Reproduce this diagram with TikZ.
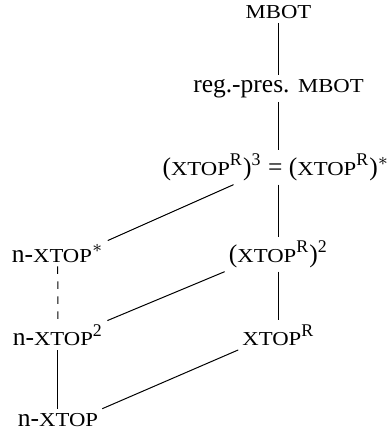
\documentclass[tikz,border=0pt]{standalone}
\usepackage{fontspec}
\setmainfont{Liberation Serif}
\newfontfamily\scwide[FakeStretch=1.15]{Liberation Serif}
\newcommand{\fsc}[1]{{\scwide\fontsize{7.9}{10}\selectfont #1}}
\newcommand{\xtop}{\fsc{XTOP}}
\newcommand{\mbot}{\fsc{MBOT}}
\newcommand{\supR}{\textsuperscript{R}}
\begin{document}
\begin{tikzpicture}[x=0.4pt, y=-0.4pt, every node/.style={anchor=base, inner sep=1.5pt}]
    \fontsize{10.2}{12}\selectfont
    \useasboundingbox (0,0) rectangle (392,435);

         % --- Right column (top to bottom) ---
         \node (mbot) at (278.5,18.3) {\mbot};
         \node (regmbot) at (278.5,92) {reg.-pres. \mbot};
         \node (top) at (276,175) {(\xtop\supR)\textsuperscript{3} = (\xtop\supR)$^{*}$};
         \node (xtoptwo) at (278.5,262) {(\xtop\supR)\textsuperscript{2}};
         \node (xtopr) at (278.5,345.5) {\xtop\supR};

         % --- Left column ---
         \node (nxtopstar) at (57.7,262) {n-\xtop$^{*}$};
         \node (nxtoptwo) at (58,345.7) {n-\xtop\textsuperscript{2}};
         \node (nxtop) at (58,426) {n-\xtop};

         % vertical edges
         \draw (mbot.south) -- (regmbot.north);
         \draw (regmbot.south) -- (regmbot.south |- top.north);
         \draw (top.south -| xtoptwo.north) -- (xtoptwo.north);
         \draw (xtoptwo.south) -- (xtopr.north);
         \draw[dashed] (nxtopstar.south) -- (nxtoptwo.north);
         \draw (nxtoptwo.south) -- (nxtop.north);

         % slanted edges
         \draw (nxtopstar.north east) -- ([xshift=-17pt]top.south);
         \draw (nxtoptwo.north east) -- (xtoptwo.south west);
         \draw (nxtop.north east) -- (xtopr.south west);

\end{tikzpicture}
\end{document}
